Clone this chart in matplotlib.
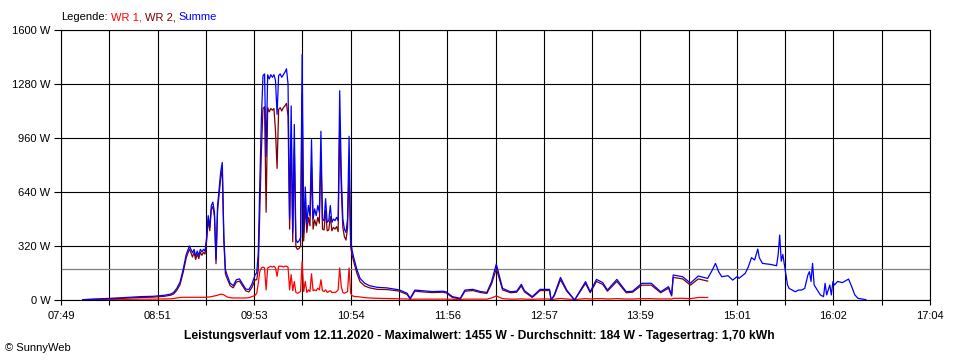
import matplotlib
matplotlib.use("Agg")
import matplotlib.pyplot as plt
import numpy as np

plt.rcParams['font.family'] = ['Liberation Sans', 'DejaVu Sans']

# ---------------- data ----------------
times = [
    "08:03","08:10","08:18","08:25","08:33","08:40","08:48","08:55","08:59","09:01",
    "09:03","09:05","09:07","09:09","09:11","09:12","09:13","09:14","09:15","09:16",
    "09:17","09:18","09:19","09:20","09:21","09:22","09:23","09:24","09:25","09:26",
    "09:27","09:28","09:29","09:30","09:31","09:32","09:33","09:34","09:35","09:37",
    "09:39","09:41","09:43","09:45","09:47","09:49","09:51",
    "09:53","09:54","09:55","09:56","09:57","09:58","09:59","10:00","10:01","10:02",
    "10:03","10:04","10:05","10:06","10:07","10:08","10:09","10:10","10:11","10:12",
    "10:13","10:14","10:15","10:16","10:17","10:18","10:19","10:20","10:21","10:22",
    "10:23","10:24","10:25","10:26","10:27","10:28","10:29","10:30","10:31","10:32",
    "10:33","10:34","10:35","10:36","10:37","10:38","10:39","10:40","10:41","10:42",
    "10:43","10:44","10:45","10:46","10:47","10:48","10:49","10:50","10:51","10:52",
    "10:53","10:54","10:55","10:56","10:57","10:58",
    "11:00","11:03","11:06","11:11","11:17","11:24","11:25","11:30","11:32","11:35",
    "11:40","11:46","11:53","11:55","11:59","12:04","12:07","12:12","12:17","12:21",
    "12:24","12:27","12:28","12:31","12:36","12:40","12:43","12:45","12:50","12:55",
    "13:01","13:02","13:04","13:08","13:12","13:17","13:24","13:27","13:31","13:35",
    "13:38","13:44","13:50","13:54","14:00","14:06","14:12","14:17","14:19","14:20",
    "14:26","14:31","14:36","14:42",
    "14:45","14:47","14:49","14:51","14:55","14:58","15:01","15:02","15:06","15:08",
    "15:10","15:12","15:14","15:15","15:17","15:22","15:26","15:27","15:28","15:29",
    "15:30","15:31","15:32","15:33","15:34","15:38","15:40","15:42","15:44","15:46",
    "15:47","15:48","15:49","15:50","15:52","15:54","15:56","15:57","15:58","16:00",
    "16:01","16:02","16:03","16:05","16:08","16:12","16:14","16:16","16:18","16:23",
]

summe = [
    2,5,8,12,16,20,22,28,35,45,
    70,105,180,270,320,300,280,300,260,290,
    265,300,285,300,290,370,500,430,560,580,
    520,240,560,660,760,815,380,180,150,100,
    85,120,125,95,65,62,95,
    150,160,280,700,1080,1330,1340,850,1335,1310,
    1335,1320,1335,1300,1100,1330,1340,1320,1335,1350,
    1370,1280,480,1150,400,1040,360,340,350,370,
    1455,400,670,450,560,500,950,480,540,500,
    560,520,1000,480,470,600,460,470,560,460,
    480,470,490,470,1240,750,480,420,400,480,
    970,360,290,250,215,180,
    128,99,85,75,72,62,60,40,10,59,
    55,50,52,48,20,10,59,63,50,45,
    109,213,178,69,49,52,93,55,20,63,
    63,0,30,134,59,0,109,49,122,103,
    59,122,49,52,99,99,49,79,30,148,
    138,100,142,128,
    178,217,168,138,144,118,140,128,158,197,
    251,237,302,250,217,211,203,267,385,230,
    270,210,150,89,69,49,59,59,69,148,
    168,110,217,89,59,30,20,99,30,89,
    30,109,89,110,103,124,79,30,10,2,
]

# WR 2 and WR 1 were logged only until 14:42
wr2 = [
    2,4,6,9,12,15,17,22,28,36,
    58,90,162,250,302,280,255,282,240,272,
    245,282,265,283,272,350,478,410,536,555,
    495,215,530,625,722,775,350,155,130,85,
    72,106,112,83,54,48,75,
    120,120,180,530,890,1135,1145,520,1140,1115,
    1135,1125,1135,1000,780,1130,1140,1120,1140,1150,
    1165,1090,420,980,345,900,315,300,305,320,
    1220,350,560,400,490,440,790,420,475,440,
    490,455,870,420,415,530,410,415,495,410,
    430,420,435,405,1030,660,430,375,355,425,
    770,315,262,225,192,158,
    108,83,72,63,62,54,52,33,6,52,
    48,44,46,42,15,6,52,56,44,39,
    95,185,156,60,43,46,83,48,15,56,
    56,0,24,120,52,0,98,43,110,92,
    52,110,43,46,88,88,43,70,24,134,
    125,88,125,112,
]

wr1 = [
    0,1,2,3,4,5,5,6,7,9,
    12,15,16,16,16,16,16,16,16,16,
    16,16,16,16,16,16,18,18,20,22,
    24,26,28,32,34,34,30,25,18,14,
    12,12,12,12,12,14,20,
    28,40,100,170,190,195,190,60,190,195,
    200,195,200,190,140,200,200,200,195,200,
    200,195,60,150,55,110,45,40,45,50,
    230,50,110,45,60,50,155,55,60,55,
    70,60,120,55,50,60,45,50,55,45,
    45,45,50,60,190,80,45,40,45,50,
    190,40,25,22,20,20,
    18,14,12,10,9,7,7,6,4,5,
    5,5,5,5,4,3,5,5,5,5,
    12,24,20,8,5,5,7,5,4,6,
    6,0,5,9,6,3,8,6,8,8,
    6,8,6,6,8,8,6,7,5,10,
    10,8,15,15,
]

average_w = 184
y_ticks_w = [0, 320, 640, 960, 1280, 1600]
x_labels = ["07:49", "08:51", "09:53", "10:54", "11:56", "12:57", "13:59", "15:01", "16:02", "17:04"]
legend_parts = [("Legende:", "black"), ("WR 1,", "#FF0000"), ("WR 2,", "#800000"), ("Summe", "#0000FF")]
title_text = ("Leistungsverlauf vom 12.11.2020 - Maximalwert: 1455 W - "
              "Durchschnitt: 184 W - Tagesertrag: 1,70 kWh")


def to_min(s):
    h, m = s.split(":")
    return int(h) * 60 + int(m)


t = np.array([to_min(s) for s in times], dtype=float)
s_arr = np.array(summe, dtype=float)
t_wr = t[:len(wr1)]
w1 = np.array(wr1, dtype=float)
w2 = np.array(wr2, dtype=float)

x0 = to_min(x_labels[0])
x1 = to_min(x_labels[-1])

# ---------------- figure ----------------
fig = plt.figure(figsize=(9.6, 3.6), dpi=100)
fig.patch.set_facecolor("white")
ax = fig.add_axes([61 / 960, 1 - 300 / 360, (930 - 61) / 960, 270 / 360])
ax.set_facecolor("white")

ax.set_xlim(x0, x1)
ax.set_ylim(0, 1600)

xt = np.linspace(x0, x1, 2 * (len(x_labels) - 1) + 1)
ax.set_xticks(xt)
lbls = []
for i in range(len(xt)):
    lbls.append(x_labels[i // 2] if i % 2 == 0 else "")
ax.set_xticklabels(lbls)
ax.set_yticks(y_ticks_w)
ax.set_yticklabels([f"{v} W" for v in y_ticks_w])

ax.tick_params(axis="x", direction="out", length=3.6, width=0.8, pad=4.5,
               labelsize=8, colors="black")
ax.tick_params(axis="y", direction="out", length=5, width=0.8, pad=2.5,
               labelsize=8, colors="black")

ax.grid(True, color="black", linewidth=0.8)
ax.set_axisbelow(True)
for sp in ax.spines.values():
    sp.set_color("black")
    sp.set_linewidth(0.8)

ax.axhline(average_w, color="#808080", linewidth=0.9, zorder=1.5)

ax.plot(t_wr, w1, color="#FF0000", linewidth=0.9, zorder=3)
ax.plot(t_wr, w2, color="#800000", linewidth=0.9, zorder=3)
ax.plot(t, s_arr, color="#0000FF", linewidth=0.9, zorder=3)

# legend line at top (pieces placed one after another)
renderer = fig.canvas.get_renderer()
probe1 = fig.text(0, 0, "a a", fontsize=8)
probe2 = fig.text(0, 0, "aa", fontsize=8)
space_px = (probe1.get_window_extent(renderer).width
            - probe2.get_window_extent(renderer).width)
probe1.remove()
probe2.remove()
xpos = 61
for txt, col in legend_parts:
    tt = fig.text(xpos / 960, 1 - 17 / 360, txt, color=col, fontsize=8,
                  va="center", ha="left")
    bb = tt.get_window_extent(renderer=renderer)
    xpos = bb.x1 + space_px

fig.text(479 / 960, 1 - 336 / 360, title_text, fontsize=8.7, fontweight="bold",
         ha="center", va="center", color="black")
fig.text(5 / 960, 1 - 348 / 360, "\u00a9 SunnyWeb", fontsize=8, ha="left", va="center",
         color="black")

fig.savefig("out.png", dpi=100, facecolor="white")
